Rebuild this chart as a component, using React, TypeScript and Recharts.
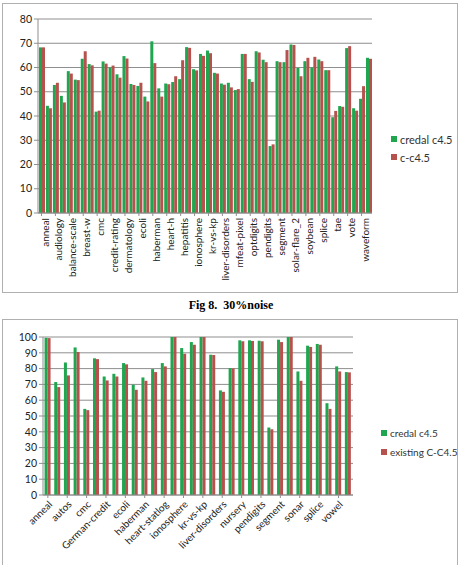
import React from 'react';
import { BarChart, Bar, XAxis, YAxis, CartesianGrid, Legend } from 'recharts';

// ---- Top chart (30% noise) ----
const topCategories = [
  'anneal', 'arrhythmia', 'audiology', 'autos', 'balance-scale', 'breast-cancer', 'breast-w', 'car',
  'cmc', 'colic', 'credit-rating', 'credit-g', 'dermatology', 'diabetes', 'ecoli', 'glass',
  'haberman', 'heart-c', 'heart-h', 'heart-statlog', 'hepatitis', 'hypothyroid', 'ionosphere', 'iris',
  'kr-vs-kp', 'letter', 'liver-disorders', 'lymph', 'mfeat-pixel', 'nursery', 'optdigits', 'page-blocks',
  'pendigits', 'primary-tumor', 'segment', 'sick', 'solar-flare_2', 'sonar', 'soybean', 'spambase',
  'splice', 'sponge', 'tae', 'vehicle', 'vote', 'vowel', 'waveform', 'zoo',
];
const topCredal = [
  68.3, 44.2, 52.8, 48.3, 58.5, 55.0, 63.6, 61.4,
  41.8, 62.5, 60.0, 57.2, 64.7, 53.2, 52.4, 48.0,
  70.8, 51.4, 53.4, 54.0, 55.2, 68.4, 59.3, 65.6,
  67.0, 57.8, 53.4, 53.7, 50.7, 65.6, 55.2, 66.7,
  63.2, 27.6, 62.6, 62.2, 69.5, 59.8, 62.6, 60.0,
  63.3, 58.9, 39.5, 44.1, 68.0, 43.2, 47.1, 64.0,
];
const topCC45 = [
  68.3, 43.2, 53.7, 45.6, 57.5, 54.8, 66.7, 60.9,
  42.2, 61.6, 60.8, 55.8, 63.7, 52.8, 53.7, 46.0,
  61.8, 48.0, 53.1, 56.4, 63.0, 68.1, 58.8, 64.8,
  65.9, 57.5, 52.9, 51.8, 51.1, 65.6, 54.1, 66.2,
  62.2, 28.3, 62.2, 67.2, 69.3, 56.4, 64.0, 64.4,
  62.6, 58.9, 42.1, 43.8, 68.8, 42.2, 52.3, 63.6,
];
const topTicks = [0, 10, 20, 30, 40, 50, 60, 70, 80];

// ---- Bottom chart ----
const bottomCategories = [
  'anneal', 'arrhythmia', 'autos', 'breast-w', 'cmc', 'credit-rating', 'German-credit', 'diabetes',
  'ecoli', 'glass', 'haberman', 'heart-h', 'heart-statlog', 'hypothyroid', 'ionosphere', 'iris',
  'kr-vs-kp', 'letter', 'liver-disorders', 'lymph', 'nursery', 'optdigits', 'pendigits', 'primary-tumor',
  'segment', 'sick', 'sonar', 'soybean', 'splice', 'tae', 'vowel', 'waveform',
];
const bottomCredal = [
  99.5, 71.5, 83.9, 93.4, 54.5, 86.5, 75.0, 76.7,
  83.5, 69.8, 74.4, 79.7, 83.5, 100, 93.0, 96.8,
  100, 88.8, 66.2, 80.3, 97.9, 97.9, 97.7, 42.7,
  98.3, 100, 78.2, 94.5, 95.6, 58.1, 81.4, 77.8,
];
const bottomExisting = [
  99.3, 68.3, 75.7, 90.5, 53.7, 86.0, 72.5, 75.0,
  82.7, 66.6, 72.3, 77.8, 81.4, 100, 89.4, 95.1,
  100, 88.6, 65.3, 80.1, 97.3, 97.5, 97.3, 41.6,
  96.8, 100, 72.3, 93.7, 95.1, 54.5, 78.2, 77.6,
];
const bottomTicks = [0, 10, 20, 30, 40, 50, 60, 70, 80, 90, 100];

const seriesNames = { topA: 'credal c4.5', topB: 'c-c4.5', botA: 'credal c4.5', botB: 'existing C-C4.5' };

const topData = topCategories.map((name, i) => ({ name, a: topCredal[i], b: topCC45[i] }));
const bottomData = bottomCategories.map((name, i) => ({ name, a: bottomCredal[i], b: bottomExisting[i] }));

const GREEN = '#1fa64f';
const RED = '#b5524e';
const GRID = '#8f8f8f';
const FONT = 'Lato, "Open Sans", sans-serif';

const makeLegend = (rowH: number, fontSize: number) => (props: any) => {
  const items = [...(props.payload || [])].sort((x: any, y: any) =>
    String(x.dataKey).localeCompare(String(y.dataKey))
  );
  return (
    <div style={{ fontFamily: FONT, fontSize, color: '#333' }}>
      {items.map((it: any) => (
        <div key={it.value} style={{ height: rowH, display: 'flex', alignItems: 'center', whiteSpace: 'nowrap' }}>
          <span style={{ display: 'inline-block', flexShrink: 0, width: 6, height: 6, background: it.color, marginRight: 3 }} />
          <span style={{ flexShrink: 0 }}>{it.value}</span>
        </div>
      ))}
    </div>
  );
};

export default function App() {
  return (
    <div style={{ position: 'absolute', left: 0, top: 0, width: 462, height: 565, background: '#fff', overflow: 'hidden' }}>
      {/* top frame */}
      <div style={{ position: 'absolute', left: 2, top: 3, width: 456, height: 290, border: '1px solid #b0b0b0', boxSizing: 'border-box' }} />
      <div style={{ position: 'absolute', left: 2, top: 3 }}>
        <BarChart
          width={456}
          height={290}
          data={topData}
          margin={{ top: 16, right: 86, bottom: 4, left: 6 }}
          barCategoryGap="14%"
          barGap={0}
        >
          <CartesianGrid vertical={false} stroke={GRID} />
          <XAxis
            dataKey="name"
            interval={1}
            height={76}
            stroke={GRID}
            tickSize={3}
            tick={{ angle: -90, textAnchor: 'end', verticalAnchor: 'middle', fontSize: 10, fill: '#222', fontFamily: FONT }}
          />
          <YAxis
            width={30}
            domain={[0, 80]}
            ticks={topTicks}
            interval={0}
            stroke={GRID}
            tickSize={4}
            tick={{ fontSize: 10.5, fill: '#222', fontFamily: FONT }}
          />
          <Legend
            layout="vertical"
            align="center"
            verticalAlign="middle"
            wrapperStyle={{ left: 389, top: 127, width: 70 }}
            content={makeLegend(18, 11)}
          />
          <Bar dataKey="a" name={seriesNames.topA} fill={GREEN} isAnimationActive={false} />
          <Bar dataKey="b" name={seriesNames.topB} fill={RED} isAnimationActive={false} />
        </BarChart>
      </div>

      <div style={{ position: 'absolute', left: 0, top: 298, width: 462, textAlign: 'center', fontFamily: '"Liberation Serif", serif', fontWeight: 'bold', fontSize: 12, whiteSpace: 'pre' }}>
        {'Fig 8.  30%noise'}
      </div>

      {/* bottom frame */}
      <div style={{ position: 'absolute', left: 2, top: 319, width: 456, height: 250, border: '1px solid #b0b0b0', boxSizing: 'border-box' }} />
      <div style={{ position: 'absolute', left: 2, top: 320 }}>
        <BarChart
          width={456}
          height={245}
          data={bottomData}
          margin={{ top: 17, right: 105, bottom: 4, left: 7 }}
          barCategoryGap="16%"
          barGap={0}
        >
          <CartesianGrid vertical={false} stroke={GRID} />
          <XAxis
            dataKey="name"
            interval={1}
            height={66}
            stroke={GRID}
            tickSize={3}
            tick={{ angle: -45, textAnchor: 'end', verticalAnchor: 'middle', fontSize: 10, fill: '#222', fontFamily: FONT }}
          />
          <YAxis
            width={34}
            domain={[0, 100]}
            ticks={bottomTicks}
            interval={0}
            stroke={GRID}
            tickSize={4}
            tick={{ fontSize: 10.5, fill: '#222', fontFamily: FONT }}
          />
          <Legend
            layout="vertical"
            align="center"
            verticalAlign="middle"
            wrapperStyle={{ left: 379, top: 104, width: 76 }}
            content={makeLegend(18.7, 10)}
          />
          <Bar dataKey="a" name={seriesNames.botA} fill={GREEN} isAnimationActive={false} />
          <Bar dataKey="b" name={seriesNames.botB} fill={RED} isAnimationActive={false} />
        </BarChart>
      </div>
    </div>
  );
}
